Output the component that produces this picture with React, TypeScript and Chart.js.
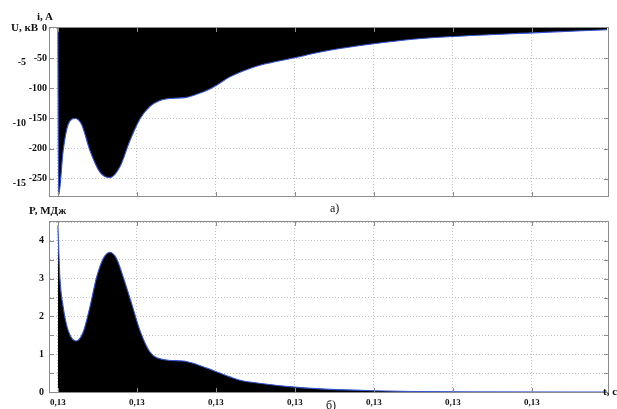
import React, { useEffect, useRef } from 'react';
import { Chart, registerables } from 'chart.js';

Chart.register(...registerables);

// time axis (s)
const timeTicks = [0.13, 0.131, 0.132, 0.133, 0.134, 0.135, 0.136];
const timeMin = 0.1299;
const timeMax = 0.136962;

// a) current, A (lower envelope of the oscillating current)
const currentTicks = [0, -50, -100, -150, -200, -250];
const voltageTicks = [-5, -10, -15];
const currentTime = [
  0.13, 0.130008, 0.130067, 0.13013, 0.13022, 0.1303, 0.130405, 0.130532, 0.130658, 0.130785,
  0.130911, 0.131038, 0.131165, 0.131291, 0.131418, 0.131629, 0.131756, 0.131924, 0.132008,
  0.132177, 0.13243, 0.132642, 0.133009, 0.133275, 0.13357, 0.134, 0.134456, 0.135, 0.136013,
  0.136949,
];
const currentValues = [
  0, -278, -203, -160, -150, -160, -203, -239, -248, -230, -187, -151, -130, -120, -117, -115,
  -110, -101, -95, -81, -67, -59, -49, -41, -34, -26, -19, -14, -8, -3,
];

// б) energy, MJ
const energyTicks = [0, 0.5, 1, 1.5, 2, 2.5, 3, 3.5, 4, 4.5];
const energyTime = [
  0.13, 0.130025, 0.130067, 0.13013, 0.13023, 0.13032, 0.130405, 0.13049, 0.130573, 0.130658,
  0.130743, 0.130827, 0.130933, 0.131038, 0.131165, 0.131333, 0.131586, 0.131756, 0.131966,
  0.132177, 0.132304, 0.132599, 0.133, 0.133443, 0.134, 0.1345, 0.1352, 0.136949,
];
const energyValues = [
  4.4, 3.04, 2.25, 1.63, 1.35, 1.59, 2.25, 3.04, 3.53, 3.7, 3.53, 3.04, 2.34, 1.63, 1.06, 0.86,
  0.82, 0.73, 0.57, 0.4, 0.31, 0.22, 0.13, 0.07, 0.035, 0.015, 0.003, 0,
];

const FONT_FAMILY = '"Liberation Serif", "Times New Roman", serif';
const tickFont = { family: FONT_FAMILY, size: 10, weight: 'bold' as const };
const GRID_COLOR = '#c2c2c2';
const LINE_BLUE = '#3454d1';

const framePlugin = {
  id: 'frame',
  beforeDatasetsDraw(chart: any) {
    const { ctx, chartArea } = chart;
    const { left, right, top, bottom } = chartArea;
    ctx.save();
    ctx.strokeStyle = '#8c8c8c';
    ctx.lineWidth = 1;
    ctx.strokeRect(left - 0.5, top - 0.5, right - left + 1, bottom - top + 1);
    ctx.restore();
  },
  afterDatasetsDraw(chart: any) {
    const { ctx, chartArea, scales } = chart;
    const { left, right, top, bottom } = chartArea;
    ctx.save();
    ctx.strokeStyle = '#8c8c8c';
    ctx.lineWidth = 1;
    ctx.beginPath();
    const xs = scales.x;
    xs.ticks.forEach((t: any) => {
      const px = Math.round(xs.getPixelForValue(t.value)) + 0.5;
      if (px <= left + 2 || px >= right - 2) return;
      ctx.moveTo(px, bottom);
      ctx.lineTo(px, bottom - 4);
      ctx.moveTo(px, top);
      ctx.lineTo(px, top + 4);
    });
    const ys = scales.y;
    ys.ticks.forEach((t: any) => {
      const py = Math.round(ys.getPixelForValue(t.value)) + 0.5;
      if (py <= top + 2 || py >= bottom - 2) return;
      ctx.moveTo(left, py);
      ctx.lineTo(left + 4, py);
      ctx.moveTo(right, py);
      ctx.lineTo(right - 4, py);
    });
    ctx.stroke();
    ctx.restore();
  },
};

const setTicks = (values: number[]) => (scale: any) => {
  scale.ticks = values.map((v) => ({ value: v }));
};

const gridOpts = { color: GRID_COLOR, drawTicks: false, lineWidth: 1 };
const borderOpts = { display: false, dash: [1, 2] };

function CurrentChart() {
  const ref = useRef<HTMLCanvasElement | null>(null);
  useEffect(() => {
    if (!ref.current) return;
    const chart = new Chart(ref.current, {
      type: 'line',
      data: {
        datasets: [
          {
            data: currentTime.map((t, i) => ({ x: t, y: currentValues[i] })),
            borderColor: LINE_BLUE,
            borderWidth: 1.1,
            backgroundColor: '#000000',
            fill: 'origin',
            pointRadius: 0,
            cubicInterpolationMode: 'monotone',
          },
        ],
      },
      options: {
        animation: false,
        responsive: false,
        events: [],
        plugins: { legend: { display: false }, tooltip: { enabled: false } },
        layout: { padding: { left: 0, right: 9, top: 28, bottom: 7.5 } },
        scales: {
          x: {
            type: 'linear',
            min: timeMin,
            max: timeMax,
            afterBuildTicks: setTicks(timeTicks),
            ticks: { display: false },
            grid: gridOpts,
            border: borderOpts,
            afterFit: (s: any) => {
              s.height = 0;
            },
          },
          y: {
            type: 'linear',
            position: 'left',
            weight: 0,
            min: -278.5,
            max: 0,
            afterBuildTicks: setTicks(currentTicks),
            ticks: { padding: 3, color: '#111', font: tickFont },
            grid: gridOpts,
            border: borderOpts,
            afterFit: (s: any) => {
              s.width = 22;
            },
          },
          yU: {
            type: 'linear',
            position: 'left',
            weight: 1,
            min: -16.04,
            max: -2.12,
            afterBuildTicks: setTicks(voltageTicks),
            ticks: { padding: 2, color: '#111', font: tickFont },
            grid: { display: false, drawTicks: false },
            border: { display: false },
            afterFit: (s: any) => {
              s.width = 28;
            },
          },
        },
      } as any,
      plugins: [framePlugin],
    });
    return () => chart.destroy();
  }, []);
  return (
    <canvas
      ref={ref}
      width={617}
      height={205}
      style={{ position: 'absolute', left: 0, top: 0, width: 617, height: 205 }}
    />
  );
}

function EnergyChart() {
  const ref = useRef<HTMLCanvasElement | null>(null);
  useEffect(() => {
    if (!ref.current) return;
    const chart = new Chart(ref.current, {
      type: 'line',
      data: {
        datasets: [
          {
            data: energyTime.map((t, i) => ({ x: t, y: energyValues[i] })),
            borderColor: LINE_BLUE,
            borderWidth: 1.1,
            backgroundColor: '#000000',
            fill: 'origin',
            pointRadius: 0,
            cubicInterpolationMode: 'monotone',
          },
        ],
      },
      options: {
        animation: false,
        responsive: false,
        events: [],
        plugins: { legend: { display: false }, tooltip: { enabled: false } },
        layout: { padding: { left: 0, right: 9, top: 17, bottom: 0 } },
        scales: {
          x: {
            type: 'linear',
            min: timeMin,
            max: timeMax,
            afterBuildTicks: setTicks(timeTicks),
            ticks: {
              padding: 5,
              color: '#111',
              font: { ...tickFont, size: 9 },
              maxRotation: 0,
              autoSkip: false,
              callback: (v: any) =>
                (Math.floor(Number(v) * 100 + 1e-9) / 100).toFixed(2).replace('.', ','),
            },
            grid: gridOpts,
            border: borderOpts,
            afterFit: (s: any) => {
              s.height = 17;
            },
          },
          y: {
            type: 'linear',
            position: 'left',
            min: 0,
            max: 4.5,
            afterBuildTicks: setTicks(energyTicks),
            ticks: {
              padding: 6,
              color: '#111',
              font: tickFont,
              callback: (v: any) => (Number.isInteger(Number(v)) ? String(v) : ''),
            },
            grid: gridOpts,
            border: borderOpts,
            afterFit: (s: any) => {
              s.width = 50;
            },
          },
        },
      } as any,
      plugins: [framePlugin],
    });
    return () => chart.destroy();
  }, []);
  return (
    <canvas
      ref={ref}
      width={617}
      height={204}
      style={{ position: 'absolute', left: 0, top: 205, width: 617, height: 204 }}
    />
  );
}

const labelStyle = (left: number, top: number, size = 10, weight = 'bold'): React.CSSProperties => ({
  position: 'absolute',
  left,
  top,
  fontFamily: FONT_FAMILY,
  fontSize: size,
  fontWeight: weight as any,
  lineHeight: 1,
  color: '#111',
  whiteSpace: 'nowrap',
});

export default function App() {
  return (
    <div
      style={{
        position: 'absolute',
        left: 0,
        top: 0,
        width: 617,
        height: 409,
        background: '#ffffff',
        overflow: 'hidden',
      }}
    >
      <CurrentChart />
      <EnergyChart />
      <div style={labelStyle(37, 11, 11)}>i, A</div>
      <div style={labelStyle(11, 22, 11)}>U, кВ</div>
      <div style={labelStyle(330, 202, 12, 'normal')}>а)</div>
      <div style={labelStyle(29, 205, 11)}>P, МДж</div>
      <div style={labelStyle(603, 386, 11)}>t, c</div>
      <div style={labelStyle(326, 399, 12, 'normal')}>б)</div>
    </div>
  );
}
